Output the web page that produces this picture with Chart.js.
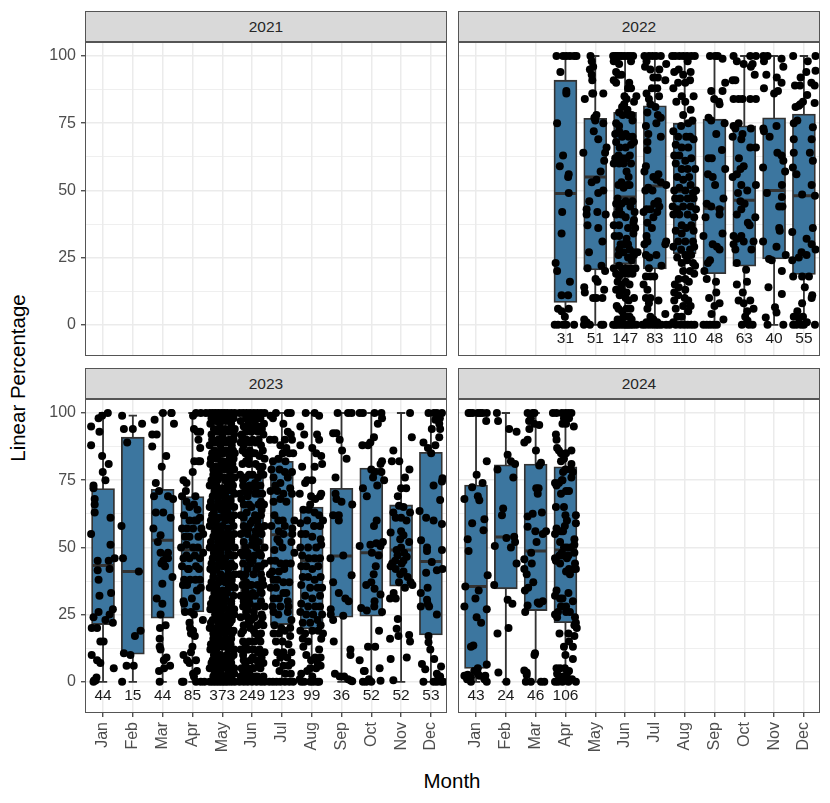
<!DOCTYPE html>
<html lang="en">
<head>
<meta charset="UTF-8" />
<title>Linear Percentage by Month</title>
<script src="https://cdn.jsdelivr.net/npm/chart.js"></script>
<style>
  body { margin: 0; background: #fff; font-family: "Liberation Sans", Arial, sans-serif; }
  canvas { position: absolute; }
  .strip { position: absolute; height: 29px; width: 360px; background: #d9d9d9; border: 1px solid #555;
    border-bottom: 2px solid #555; text-align: center; line-height: 29px; font-size: 15.5px; color: #262626; }
  .title { position: absolute; font-size: 20.5px; color: #000; white-space: nowrap; }
</style>
</head>
<body>
<div class="strip" style="left:85px;top:11px">2021</div>
<div class="strip" style="left:458px;top:11px">2022</div>
<div class="strip" style="left:85px;top:368px">2023</div>
<div class="strip" style="left:458px;top:368px">2024</div>
<div class="title" style="left:452px;top:769px;transform:translateX(-50%)">Month</div>
<div class="title" style="left:18px;top:378px;transform:translate(-50%,-50%) rotate(-90deg)">Linear Percentage</div>
<canvas id="c2021" style="left:30px;top:42px"></canvas>
<canvas id="c2022" style="left:458px;top:42px"></canvas>
<canvas id="c2023" style="left:30px;top:399px"></canvas>
<canvas id="c2024" style="left:458px;top:399px"></canvas>
<script>
const monthNames = ['Jan','Feb','Mar','Apr','May','Jun','Jul','Aug','Sep','Oct','Nov','Dec'];
const yTicks = [0,12.5,25,37.5,50,62.5,75,87.5,100];
const yLabels = [0,25,50,75,100];

// box stats
const months22 = [4,5,6,7,8,9,10,11,12];
const n22 = [31,51,147,83,110,48,63,40,55];
const q1_22 = [8.3,20.4,22.6,20.8,26.4,19,21.8,24.5,18.7];
const med22 = [48.8,55,47.5,51.6,49.6,43.4,46.3,50,48];
const q3_22 = [91,76.8,79,81.5,75,76.5,74,77,78.4];
const lo22 = [0,0,0,0,0,0,0,0,0];
const hi22 = [100,100,100,100,100,100,100,100,100];

const months23 = [1,2,3,4,5,6,7,8,9,10,11,12];
const n23 = [44,15,44,85,373,249,123,99,36,52,52,53];
const q1_23 = [21.3,10.3,23.7,26,27.8,27.8,21.3,19.7,24,24.4,35.6,17.4];
const med23 = [43.3,41,52.7,49,50,50,54.7,45,46.8,48,49,44.8];
const q3_23 = [71.9,91,71.6,68.9,70.7,77,82,65,72,79.5,65.8,85.4];
const lo23 = [0,0,0,0,0,0,0,0,0,0,0,0];
const hi23 = [100,99,100,100,100,100,100,100,100,100,100,100];

const months24 = [1,2,3,4];
const n24 = [43,24,46,106];
const q1_24 = [5,34.6,26.5,22];
const med24 = [35.5,53.9,48.7,49];
const q3_24 = [73.2,80.7,81,80];
const lo24 = [0,0,0,0];
const hi24 = [100,100,100,100];

// jittered points: [offset from the month, value], estimated by eye
const apr22 = [[-.3,100],[-.08,100],[.03,100],[.15,100],[.29,100],[.37,100],[-.17,94],[.03,87],[.03,86],[-.28,75],[-.08,63],[-.19,59],[.11,56],[.09,55],[.11,49],[-.11,42],[-.13,34],[-.33,23],[-.28,20],[.15,16],[-.13,11],[.09,11],[-.25,6],[.11,6],[-.13,5],[-.02,3],[-.36,0],[-.25,0],[-.08,0],[.03,0],[.29,0]];
const may22 = [[-.16,100],[-.12,98],[-.07,96],[-.18,95],[-.12,93],[-.1,91],[-.07,86],[-.1,86],[.27,86],[-.35,84],[.04,78],[-.03,77],[0,76],[.27,75],[.1,69],[.38,66],[.33,64],[-.4,64],[.04,54],[-.12,53],[.27,50],[.1,49],[-.29,43],[-.29,41],[.07,42],[.35,41],[-.26,37],[.24,31],[-.21,27],[.21,22],[-.26,21],[.33,20],[.01,17],[-.37,14],[-.35,12],[-.07,10],[.04,10],[.24,10],[.3,13],[-.37,2],[-.29,1],[.27,0],[-.18,0],[.2,0],[-.38,0],[.08,16],[-.05,72],[.18,57],[.3,61],[-.2,46],[.1,36]];
const jun22 = [[-.4,100],[-.33,100],[-.27,100],[-.2,100],[-.12,100],[-.03,100],[.08,100],[.17,100],[.27,100],[-.38,98],[-.3,98],[-.2,97],[.2,98],[-.3,94],[-.22,93],[-.12,93],[-.38,91],[-.3,90],[.14,90],[.1,88],[.2,88],[-.02,85],[.05,84],[.38,85],[.3,83],[-.1,81],[-.03,82],[.08,80],[-.2,79],[-.08,78],[.12,78],[.22,78],[-.3,75],[-.2,74],[.25,76],[-.33,71],[-.2,72],[-.1,70],[.02,71],[.12,70],[.25,70],[-.3,68],[-.18,66],[.02,66],[.2,67],[.3,68],[-.33,62],[-.22,63],[-.1,62],[.04,62],[.16,63],[-.38,60],[-.2,60],[-.05,60],[.2,60],[.05,57],[.12,55],[-.12,53],[.08,52],[-.22,52],[-.05,51],[.15,52],[-.25,47],[-.12,45],[.02,46],[.25,46],[-.3,45],[-.2,43],[.18,44],[.32,42],[-.3,41],[-.12,41],[.02,40],[.3,39],[-.38,37],[-.2,37],[.28,38],[.1,36],[.34,36],[-.35,33],[-.2,33],[.05,32],[.28,34],[-.15,30],[-.03,30],[.1,30],[-.2,28],[-.05,27],[.15,28],[.28,27],[.42,27],[-.22,26],[.1,25],[.3,26],[.22,24],[-.38,21],[-.2,22],[-.1,21],[.05,21],[.18,21],[.35,21],[-.3,19],[-.2,18],[-.08,19],[.1,19],[.25,19],[-.25,16],[-.12,15],[.02,16],[.15,15],[-.3,13],[-.12,13],[.05,12],[-.18,11],[.02,10],[.3,10],[.12,9],[-.28,7],[-.22,6],[-.1,5],[.05,6],[.18,6],[-.05,3],[.08,3],[.15,3],[-.25,2],[-.12,2],[.22,2],[-.4,0],[-.33,0],[-.25,0],[-.15,0],[-.05,0],[.03,0],[.1,0],[.18,0],[.27,0],[.38,0]];
const jul22 = [[-.35,100],[-.2,100],[-.08,100],[.04,100],[.2,100],[-.28,98],[.38,97],[-.33,96],[-.15,95],[.15,95],[-.05,92],[.1,92],[.35,91],[-.1,88],[.08,88],[-.28,86],[-.2,84],[.14,85],[-.15,82],[.02,81],[-.25,79],[.1,78],[.2,77],[-.3,74],[.05,75],[-.22,71],[.2,70],[-.25,68],[-.25,65],[-.3,59],[-.35,57],[-.05,55],[.05,54],[.12,56],[.2,53],[.38,52],[-.32,50],[-.22,51],[-.08,50],[.1,46],[-.02,45],[.15,44],[-.28,43],[-.38,42],[-.15,43],[-.05,40],[.08,42],[-.25,38],[-.1,36],[-.35,30],[-.28,33],[-.25,31],[.35,30],[.38,31],[-.3,26],[-.18,25],[.05,26],[.22,22],[-.2,21],[-.3,18],[-.15,18],[-.02,18],[-.38,15],[-.25,13],[-.3,10],[-.15,10],[-.2,8],[-.25,6],[.12,9],[.35,4],[-.15,3],[-.28,1],[-.42,0],[-.32,0],[-.2,0],[-.08,0],[.03,0],[.12,0],[.22,0],[.38,0],[.5,0],[.08,1],[-.05,2]];
const aug22 = [[-.42,100],[-.32,100],[-.18,100],[-.05,100],[.08,100],[.22,100],[.34,100],[.1,98],[-.2,95],[-.35,94],[-.05,93],[.2,94],[.02,90],[-.22,90],[.18,91],[-.38,88],[-.1,85],[.3,85],[-.28,83],[.02,83],[.2,80],[-.05,78],[.26,76],[.12,75],[-.12,74],[-.38,72],[-.22,70],[.05,70],[.18,70],[.3,69],[-.3,67],[-.1,66],[.12,66],[-.35,63],[-.18,63],[.02,61],[.22,62],[-.3,60],[-.1,58],[.1,58],[.35,58],[-.25,55],[-.05,54],[.15,55],[-.35,50],[-.18,51],[.02,50],[.2,52],[.28,49],[.38,50],[-.32,47],[-.15,47],[.1,47],[.3,47],[-.4,44],[-.25,43],[-.05,44],[.2,44],[.38,43],[-.38,41],[-.18,41],[.1,41],[.32,40],[-.1,37],[.05,36],[.22,37],[-.3,35],[-.1,34],[.3,35],[-.22,31],[.02,31],[.28,31],[-.38,29],[-.12,28],[.18,28],[.32,29],[-.25,25],[.02,26],[.22,26],[-.1,23],[.08,24],[.28,23],[.35,22],[-.05,20],[.18,20],[.32,19],[-.2,17],[.02,17],[.14,16],[-.33,15],[-.2,14],[.02,13],[-.35,12],[-.22,11],[0,10],[.12,9],[-.35,9],[-.05,7],[.2,7],[-.3,6],[.12,5],[-.25,3],[-.1,3],[-.38,1],[-.3,0],[-.15,0],[-.02,0],[.1,0],[.22,0],[.33,0]];
const sep22 = [[-.15,100],[.02,100],[.11,100],[.27,99],[.36,90],[.27,87],[-.11,87],[-.01,84],[.17,82],[-.2,77],[-.11,76],[.34,75],[.06,71],[.25,65],[-.09,62],[.36,58],[-.22,56],[-.06,55],[.3,47],[-.26,45],[-.11,44],[.17,43],[.17,41],[-.37,33],[.27,34],[-.06,30],[.08,29],[.17,28],[-.15,24],[-.22,23],[-.34,20],[-.26,17],[.06,12],[-.18,10],[.17,8],[0,7],[.3,2],[-.37,0],[-.26,0],[-.15,0],[-.03,0],[.08,0],[.15,83],[-.2,62],[.02,52],[-.3,40],[.05,16],[-.1,4]];
const oct22 = [[-.36,100],[-.25,98],[.2,100],[.39,100],[.28,97],[.35,93],[-.3,91],[-.39,91],[-.36,84],[-.19,84],[-.06,84],[.2,84],[.39,84],[-.19,75],[-.36,74],[-.3,73],[-.39,70],[.22,73],[-.06,71],[-.1,69],[.39,66],[-.02,59],[-.13,58],[-.25,56],[-.39,55],[-.1,52],[.39,52],[-.21,49],[-.13,46],[.01,45],[-.1,43],[-.25,41],[.37,40],[.18,37],[-.1,33],[-.36,33],[-.25,32],[-.02,31],[.31,31],[-.36,30],[-.3,28],[.24,28],[-.25,23],[.06,20.5],[.09,16],[-.25,15],[-.19,9],[.2,9],[-.02,8],[.31,6],[.03,3],[.11,1.5],[-.08,0],[.15,0],[.28,0],[.22,96],[-.02,97],[.1,50],[-.18,62],[.12,38],[.2,66],[-.05,12],[.1,5]];
const nov22 = [[-.36,100],[-.22,100],[-.34,98],[.31,96],[-.26,93],[.09,92],[.25,90],[-.34,88],[.13,87],[0,86],[-.36,73],[-.34,72],[.08,74],[-.15,70],[.11,64],[.25,63],[.31,61],[-.37,58.5],[.37,57],[.26,52],[-.24,49],[.26,47.5],[.17,44],[.28,44],[.17,36],[.19,35],[-.37,31],[.08,29],[.39,26],[-.17,24.5],[-.08,24],[.26,20],[-.19,14],[.26,11.5],[.03,6.5],[.08,4.6],[-.28,2.7],[-.22,0],[.31,0],[.25,99]];
const dec22 = [[-.36,100],[.39,100],[.13,98],[.08,94],[.39,94.5],[-.11,92],[-.13,89],[-.3,89],[.36,89],[.11,85.5],[-.03,83],[-.17,81.5],[-.28,81],[.36,82.5],[-.22,76],[-.34,75],[.3,73.5],[-.34,69],[.26,69],[.2,64],[-.34,64],[.3,61],[-.37,58.5],[-.25,56],[.26,52],[-.06,48.5],[.37,48],[.3,36],[-.39,34.5],[.09,32],[.26,30],[.39,28],[-.08,27],[.09,26],[-.17,25],[-.39,24],[-.36,18],[-.06,18],[.17,18],[.03,14],[.28,11],[.26,10],[-.06,8],[-.22,5],[-.34,3],[-.17,2.5],[-.03,3],[-.36,0],[.37,0],[-.25,0],[-.1,0],[0,0],[.1,1],[-.12,82],[.25,90]];

const jan23 = [[.16,100],[-.03,99],[-.15,98],[-.4,95],[-.12,93],[-.4,88],[-.03,84],[.19,81],[-.01,78],[.08,75],[-.32,73],[-.32,72],[-.28,68],[-.28,66],[-.28,63],[.25,61],[-.4,55],[.25,51],[.39,46],[.19,45],[-.18,45],[-.18,41.5],[.22,42],[-.15,38],[-.12,32],[.27,33],[-.15,26],[.33,27],[.22,25],[-.32,24],[.08,23],[.33,22],[-.38,20],[-.2,20],[.02,15],[-.09,15],[-.38,10],[-.2,8],[-.09,7],[.36,5],[-.22,1.6],[-.32,0],[-.25,.5],[-.3,.5]];
const feb23 = [[-.36,99],[.31,96],[-.3,94],[0,94],[-.19,89],[-.38,58],[-.33,46],[.2,41],[.26,19],[.07,17],[-.3,10.6],[-.08,10],[-.21,6],[.03,6],[-.36,0]];
const mar23 = [[.01,100],[.29,100],[-.27,97.5],[.38,96],[-.2,92],[-.35,92],[-.35,87.5],[.12,84],[-.03,80],[-.23,74],[-.12,71],[-.29,69],[.18,69],[.35,68],[-.23,63],[.02,63],[.27,61],[-.31,57],[-.07,54.5],[-.16,52],[-.07,48],[.18,48],[.02,45],[.18,46],[.33,39],[-.01,36.5],[-.2,31],[-.01,29],[-.07,25],[.1,21],[-.09,20],[-.1,16],[-.07,12],[.13,9],[.25,6],[-.12,4],[.05,5],[-.1,0],[.3,100],[.12,47],[-.04,44],[.08,43],[.04,8],[-.1,13]];
const apr23 = [[.12,100],[.28,100],[.45,100],[.02,99],[.05,94],[.17,93],[.26,93],[.2,90],[.26,87],[.26,82],[.06,82],[.2,82],[.01,78],[-.3,75],[-.2,74],[-.22,71],[-.35,69],[.1,69],[-.2,67],[-.1,65],[.05,66],[.17,64],[-.28,62],[-.1,60],[.08,60],[.25,61],[-.35,57],[-.18,57],[.02,57],[.3,57],[-.25,54],[-.1,54],[.2,54],[.36,55],[-.38,50],[-.2,51],[.02,50],[.18,50],[-.3,46],[-.1,46],[.08,47],[.25,46],[-.35,43],[-.15,42],[.12,43],[-.28,38],[-.08,38],[.1,38],[.25,38],[-.32,36],[-.18,36],[.28,35],[-.3,30],[-.28,29],[-.25,26],[.35,23],[-.1,22],[-.08,20],[-.05,18],[.02,19],[.08,17],[0,13],[-.05,11],[.12,8],[-.3,10],[-.18,8],[-.1,7],[.15,4],[.02,3],[-.35,0],[-.3,0],[.05,2],[.12,0],[.28,0],[.4,0],[.05,25],[.12,28],[-.02,31],[.15,34],[-.12,42],[-.05,26],[-.2,47],[.22,42],[.36,48],[.15,60]];
const may23 = [[-.42,100],[-.32,100],[-.22,100],[-.12,100],[-.02,100],[.08,100],[.18,100],[.3,100],[.42,100],[-.4,96],[-.24,97],[-.08,96],[.12,97],[.3,96],[-.36,92],[-.16,93],[0,92],[.2,93],[.4,92],[-.42,88],[-.24,89],[-.06,88],[.14,89],[.32,88],[-.34,85],[-.14,84],[.04,85],[.24,84],[.42,85],[-.4,81],[-.22,80],[-.04,81],[.16,80],[.34,81],[-.3,77],[-.12,77],[.06,76],[.26,77],[.42,76],[-.42,73],[-.2,73],[0,72],[.18,73],[.36,73],[-.32,69],[-.1,69],[.1,69],[.28,68],[-.42,65],[-.22,65],[-.02,66],[.18,65],[.4,65],[-.34,62],[-.12,61],[.06,62],[.28,61],[-.42,58],[-.2,58],[0,58],[.2,57],[.38,58],[-.3,54],[-.1,54],[.12,54],[.3,53],[-.42,50],[-.2,50],[0,50],[.2,50],[.42,50],[-.32,46],[-.1,46],[.1,46],[.3,47],[-.4,42],[-.2,42],[0,43],[.2,42],[.4,43],[-.3,39],[-.08,38],[.12,39],[.32,38],[-.42,35],[-.2,35],[.02,34],[.22,35],[.42,35],[-.32,31],[-.1,31],[.1,31],[.3,30],[-.4,27],[-.2,27],[0,27],[.22,27],[.4,27],[-.32,23],[-.1,23],[.12,24],[.32,23],[-.42,20],[-.2,20],[0,20],[.2,20],[.38,19],[-.3,16],[-.1,16],[.12,16],[.3,16],[-.4,12],[-.2,12],[0,13],[.2,12],[.4,12],[-.32,8],[-.1,9],[.1,8],[.3,9],[-.42,5],[-.2,5],[0,5],[.2,5],[.4,5],[-.3,2],[-.1,2],[.12,2],[.3,2],[-.42,0],[-.32,0],[-.22,0],[-.12,0],[-.02,0],[.08,0],[.18,0],[.3,0],[.42,0],
  [-.36,98],[-.18,98],[0,98],[.2,98],[.38,98],[-.28,94],[-.1,94],[.1,94],[.28,94],[.42,94],[-.34,90],[-.14,90],[.06,90],[.24,90],[.38,90],[-.26,86],[-.04,86],[.1,86],[.22,86],[.36,86],[-.38,83],[-.2,83],[.02,82],[.2,82],[.38,83],[-.3,79],[-.12,79],[.08,79],[.26,79],[.4,79],[-.36,75],[-.16,75],[.1,75],[.3,75],[-.26,71],[-.06,71],[.14,71],[.34,71],[.42,70],[-.38,67],[-.14,67],[.08,67],[.28,67],[-.28,63],[-.04,64],[.18,63],[.4,62],[-.38,60],[-.2,60],[.1,60],[.3,60],[-.24,56],[-.04,56],[.18,55],[.4,55],[-.38,52],[-.14,52],[.08,52],[.3,52],[-.28,48],[-.06,48],[.2,48],[.4,47],[-.36,44],[-.12,44],[.1,44],[.3,44],[-.3,41],[-.06,40],[.2,40],[.42,40],[-.36,37],[-.12,37],[.1,37],[.32,36],[-.26,33],[-.06,33],[.16,33],[.38,32],[-.38,29],[-.16,29],[.06,29],[.3,29],[-.24,25],[-.04,25],[.18,25],[.4,25],[-.38,22],[-.12,22],[.06,22],[.26,22],[-.3,18],[-.1,18],[.1,18],[.32,18],[-.38,14],[-.16,14],[.06,14],[.28,14],[-.28,10],[-.06,10],[.16,10],[.38,10],[-.36,7],[-.14,7],[.08,7],[.3,7],[-.26,3],[-.04,3],[.2,3],[.4,3]];
const jun23 = [[-.42,100],[-.3,100],[-.18,100],[-.06,100],[.06,100],[.18,100],[.3,100],[.42,100],[-.38,97],[-.12,97],[.1,97],[.28,98],[.4,96],[-.35,92],[-.2,93],[-.02,93],[.2,93],[.38,92],[-.38,89],[-.28,88],[-.08,89],[.12,89],[.3,88],[-.22,85],[.02,85],[.25,84],[.42,83],[-.32,81],[-.1,81],[.12,81],[.35,80],[-.4,77],[-.22,76],[.02,77],[.2,76],[.38,77],[-.3,73],[-.08,73],[.28,73],[-.4,70],[-.15,69],[.1,70],[.34,70],[-.28,66],[-.02,65],[.22,66],[.4,66],[-.38,62],[-.18,63],[.1,62],[.3,62],[-.28,58],[-.05,59],[.2,58],[.42,58],[-.38,55],[-.15,55],[.1,54],[.32,55],[-.28,52],[0,51],[.22,52],[.42,50],[-.38,48],[-.15,48],[.08,47],[.3,47],[-.3,44],[-.05,44],[.2,43],[.42,44],[-.4,40],[-.22,40],[.05,40],[.3,40],[-.32,36],[-.08,36],[.18,36],[.38,36],[-.38,32],[-.18,32],[.1,32],[.32,33],[-.3,28],[-.08,29],[.2,28],[.42,28],[-.38,24],[-.15,24],[.08,24],[.32,25],[-.28,21],[-.12,22],[.18,21],[.38,21],[-.36,18],[-.06,20],[.12,18],[.3,18],[-.3,15],[-.1,15],[.08,15],[.28,15],[-.38,12],[-.18,12],[.05,12],[.25,12],[.42,11],[-.28,8],[-.05,8],[.15,8],[.32,9],[-.35,5],[-.15,5],[.05,5],[.28,5],[-.38,2],[-.22,2],[-.02,2],[.18,2],[.38,2],[-.42,0],[-.28,0],[-.15,0],[0,0],[.15,0],[.3,0],[.42,0],
  [-.2,98],[.02,98],[.16,99],[-.28,95],[-.1,95],[.12,95],[.28,95],[-.18,90],[.02,90],[.22,90],[.36,86],[-.32,86],[-.08,86],[.1,85],[-.2,82],[.24,80],[-.1,77],[.1,74],[-.22,71],[.22,70],[-.36,68],[-.1,66],[.32,64],[-.28,61],[.02,60],[-.12,57],[.3,57],[.02,53],[-.22,50],[.14,50],[-.1,46],[.3,43],[-.28,39],[.14,42],[-.02,36],[.28,34],[-.22,34],[-.1,31],[.12,28],[-.2,26],[.3,22],[-.02,23],[.22,16],[-.12,12],[-.3,10],[.02,9],[.22,6],[-.22,7],[-.1,3],[.1,2],[.3,1],
  [-.33,91],[.33,94],[-.12,83],[.3,78],[-.3,75],[.12,72],[-.12,71],[.3,67],[.18,60],[-.22,57],[.12,56],[-.3,47],[.24,48],[.02,45],[-.15,42],[.34,38],[-.2,37],[.02,33],[-.28,30],[.3,30],[-.14,27],[.06,26],[.35,24],[-.3,19],[.06,19],[-.22,14],[.2,11],[.38,7],[-.3,4],[.02,5]];
const jul23 = [[-.38,99],[-.2,100],[.2,100],[.3,100],[-.3,98],[.05,96],[.2,93],[.3,92],[-.4,90],[-.25,90],[-.05,88],[.1,90],[.34,90],[.15,87],[.03,85],[.25,85],[.38,85],[-.3,82],[-.12,83],[.12,82],[-.35,79],[-.08,79],[.1,78],[.34,78],[-.28,76],[-.05,74],[.2,76],[-.22,73],[.28,72],[-.38,71],[-.15,71],[.05,70],[.34,70],[-.28,67],[-.05,68],[.15,67],[-.25,62],[-.12,60],[.03,60],[.1,58],[-.35,58],[-.1,56],[.05,55],[.35,57],[.35,55],[-.15,53],[-.08,52],[.02,50],[.32,52],[-.25,49],[-.38,45],[-.22,45],[-.05,44],[.14,44],[.3,44],[-.32,41],[-.1,41],[.08,42],[-.28,38],[-.15,38],[.05,37],[.25,37],[-.38,35],[-.2,35],[.05,33],[.15,33],[-.28,31],[-.1,31],[.2,30],[-.32,28],[-.05,28],[.22,28],[-.28,26],[-.12,25],[.2,26],[.32,23],[-.25,21],[-.02,20],[.28,20],[-.28,18],[-.1,18],[.1,19],[.28,17],[-.2,15],[.02,15],[.22,14],[-.15,11],[.05,11],[.32,11],[-.05,9],[.18,9],[.32,7],[-.2,7],[.05,6],[.22,6],[-.08,4],[.12,3],[.3,3],[-.42,0],[-.3,0],[-.18,0],[-.05,0],[.1,0],[.25,0],[.38,0],[.42,60],[-.4,40],[.42,48]];
const aug23 = [[-.2,100],[.1,100],[.25,99],[-.38,95],[-.25,92],[.18,92],[.25,90],[-.38,88],[.02,87],[.15,85],[.32,84],[.35,81],[-.32,80],[-.15,75],[.02,75],[-.22,74],[-.02,69],[.12,68],[.28,69],[-.05,66],[-.28,64],[-.1,64],[.1,63],[.25,62],[-.38,59],[-.15,60],[.08,58],[.28,58],[-.35,55],[-.2,55],[.02,54],[.3,53],[-.38,50],[-.12,50],[.15,50],[.32,51],[-.32,47],[-.1,46],[.1,46],[.28,46],[-.35,43],[-.18,43],[.02,42],[.22,43],[-.3,39],[-.12,39],[.1,38],[.3,39],[-.35,36],[-.05,35],[.2,35],[.35,35],[-.22,32],[.02,31],[.28,32],[-.35,29],[-.12,28],[.12,28],[.28,28],[-.38,26],[-.18,25],[.05,25],[.35,25],[-.3,22],[-.05,22],[.2,23],[.3,21],[-.38,19],[-.22,18],[.02,19],[.22,19],[.38,18],[-.3,16],[-.12,15],[.32,16],[-.28,13],[.25,12],[-.18,10],[-.02,8],[.12,9],[.3,9],[.2,7],[.3,6],[-.05,5],[.15,5],[-.35,3],[-.15,4],[.02,2],[-.35,0],[-.25,0],[-.05,0],[.05,0],[.18,0],[.25,0],[-.4,1],[.38,60],[-.4,70],[.32,70],[.1,80]];
const sep23 = [[-.13,100],[.22,100],[.34,100],[-.17,92.5],[-.28,92.5],[-.06,90],[.02,86],[.17,83],[-.2,76],[-.2,70],[-.17,68],[0,67],[.36,66],[-.28,62],[-.09,62],[-.09,60],[.06,47],[-.37,46],[.34,39.6],[-.28,37],[-.09,33],[.13,31],[.24,30],[-.36,27],[-.36,25],[-.28,23],[.06,24.6],[-.26,15],[.3,12],[.3,10],[-.22,3],[-.06,2],[.09,2],[.22,1],[.31,.5],[.36,.2]];
const oct23 = [[-.39,100],[-.28,100],[.11,100],[.34,100],[.36,98],[.22,96],[.09,91],[-.03,89],[-.11,88],[.36,82],[.31,81],[0,79],[.11,78],[.06,76],[.34,78],[.43,75],[.2,73],[-.28,72],[-.15,69],[.09,58],[-.39,50.5],[-.03,51],[.39,52],[.17,51.5],[.31,50.5],[.02,48],[.25,47],[.15,43],[0,37],[-.17,36],[.11,34.6],[.31,32.5],[.11,30],[-.34,27.5],[-.15,26.5],[.36,26],[.26,19],[-.11,13],[.13,13],[-.39,8],[.28,5],[-.22,4],[-.28,0],[-.17,0],[0,0],[.31,.4],[-.08,1],[.1,28],[.18,60],[-.3,88],[-.25,4],[.08,40]];
const nov23 = [[.3,100],[.36,91],[-.26,86],[-.31,82],[-.06,82],[.28,79],[.13,76],[0,72],[.17,72],[-.11,69],[-.07,65.5],[.08,65],[.3,63],[-.26,63],[-.18,61],[0,61],[-.35,55.5],[0,56],[.08,54.5],[.27,52],[0,50],[-.15,49],[.19,46.5],[-.2,45],[.08,45],[-.35,43],[-.18,42],[.08,41],[-.03,40],[.22,39],[.38,36],[-.07,37],[.13,35],[-.37,31],[-.18,31],[-.11,23.4],[-.15,19.7],[-.37,16],[-.09,17],[.27,17.4],[.3,15],[-.35,8.5],[.19,9],[-.26,.6],[-.3,44],[-.12,47],[.1,48],[-.03,53],[.02,44],[.18,60],[.32,37],[-.25,33]];
const dec23 = [[-.08,100],[.2,100],[.37,100],[.26,99],[.15,97.5],[.03,94],[.31,94],[.28,91],[.15,88],[-.25,89],[-.1,87],[.01,85],[.39,75.7],[.37,74.5],[.09,73],[.31,67.6],[-.38,63.5],[-.16,61],[.09,60],[.37,58.7],[-.33,52.7],[-.13,50],[-.13,48.7],[.37,49],[.03,44.6],[.39,42],[.2,41.5],[-.16,40.6],[-.11,35],[-.34,33],[-.13,30.5],[-.34,28],[-.11,29],[-.06,28],[.2,25],[-.08,17],[-.08,14.7],[-.02,12],[.11,8.5],[-.3,6.6],[-.19,4.7],[.34,5.7],[.2,3],[.31,2],[-.25,0],[.09,0],[.2,0],[.35,0],[.3,98],[.1,100],[.24,1],[.42,0],[.28,96]];

const jan24 = [[-.25,100],[-.11,100],[.06,100],[.22,100],[.36,100],[.34,97],[.36,82],[.02,77],[.22,74],[-.13,72.4],[.06,69],[-.39,68],[.11,67.5],[.28,60.5],[-.13,59],[.25,56.4],[-.28,53],[-.25,48.7],[.39,39.6],[-.36,35.5],[.09,34],[-.02,31],[-.39,28],[.36,27],[.02,24],[.17,22],[-.09,13.5],[-.17,13],[.36,6.4],[.06,5],[-.06,4],[-.28,2.6],[-.39,2.3],[-.17,1.6],[.11,2.3],[.31,2.3],[-.17,0],[.36,0],[.06,3],[-.2,100],[.14,100],[.28,1],[-.3,1]];
const feb24 = [[-.3,100],[-.26,97],[.11,94],[.36,93],[.06,84.5],[.17,82],[.31,81],[-.28,79],[.25,76],[-.09,64.5],[-.13,62],[.02,53.5],[.28,54],[.31,52],[.17,50],[-.37,50.5],[.36,44],[-.39,36],[.06,30.5],[.22,29],[.09,20],[-.28,18],[-.25,3.5],[.02,0]];
const mar24 = [[-.27,100],[-.04,100],[-.16,98],[.12,95.5],[-.21,94],[-.27,90],[-.38,89],[.01,86],[.18,81.5],[.12,80.5],[.1,72],[.07,70],[.21,63],[-.1,62.5],[-.27,61.5],[-.27,57.7],[-.01,56],[.35,56],[.24,55],[.03,52],[-.38,45.6],[-.13,44],[-.38,42],[-.3,40],[-.08,37],[-.36,34],[.24,30],[.07,29.5],[-.27,28.4],[-.35,26],[-.02,10.6],[-.04,10],[-.38,4.2],[-.3,2.5],[-.16,0],[-.33,0],[.18,0],[.29,0],[-.1,100],[-.22,97],[-.05,96],[.02,72],[-.15,48],[-.25,35],[.12,29],[-.3,3.5]];
const apr24 = [[-.42,100],[-.3,100],[-.12,100],[0,100],[.1,100],[.2,100],[-.05,98],[.12,98],[-.1,96],[.02,96],[.28,95],[-.32,92],[-.3,90],[-.28,87],[-.22,86],[-.15,85],[.02,85],[.2,86],[-.15,82],[-.05,83],[.2,81],[.18,79],[0,79],[.25,78],[-.08,78],[.2,76],[-.1,75],[-.35,74],[-.22,74],[-.12,75],[-.3,73],[.02,71],[-.15,70],[.12,71],[-.32,65],[-.05,65],[0,62],[.05,60],[.35,62],[-.02,58],[.35,59],[-.3,57],[-.15,56],[-.35,55],[-.08,56],[.3,53],[-.18,52],[.05,50],[.3,51],[-.05,50],[.18,50],[-.12,48],[.3,48],[-.35,46],[-.2,47],[-.08,47],[.1,47],[-.32,45],[-.18,44],[.05,46],[.32,44],[.28,42],[.12,42],[.02,41],[.15,40],[.35,42],[-.3,34],[-.35,32],[-.18,31],[-.1,31],[.1,33],[.02,28],[-.15,28],[.25,30],[-.25,26],[-.35,25],[.02,26],[.15,26],[.32,24],[-.28,24],[.35,22],[.3,21],[.38,20],[-.2,18],[.1,18],[.12,15],[.3,17],[-.05,13],[.25,13],[0,10],[.25,8.5],[-.3,5],[-.18,5],[-.02,5],[.12,4],[-.28,3],[-.1,2],[.05,3],[-.22,1],[0,1],[.22,1],[-.35,0],[-.25,0],[-.1,0],[.1,0],[.35,0]];

function seg(list) {
  // flatten [[x,y],[x,y]] segments into one line with gaps
  const out = [];
  list.forEach(s => { out.push({x:s[0][0],y:s[0][1]}, {x:s[1][0],y:s[1][1]}, {x:s[1][0],y:null}); });
  return out;
}

function boxSets(ms, q1, med, q3, lo, hi, pts) {
  const whisk = [];
  ms.forEach((m,i) => {
    whisk.push([[m,lo[i]],[m,hi[i]]]);
    whisk.push([[m-.14,lo[i]],[m+.14,lo[i]]]);
    whisk.push([[m-.14,hi[i]],[m+.14,hi[i]]]);
  });
  const points = [];
  ms.forEach((m,i) => pts[i].forEach(p => points.push({x:m+p[0],y:p[1]})));
  return [
    {type:'scatter',data:points,pointRadius:4,pointBackgroundColor:'#000',pointBorderWidth:0,order:1},
    {type:'line',data:seg(ms.map((m,i) => [[m-.37,med[i]],[m+.37,med[i]]])),borderColor:'#333',borderWidth:3,pointRadius:0,spanGaps:false,order:2},
    {type:'bar',data:ms.map((m,i) => ({x:m,y:[q1[i],q3[i]]})),backgroundColor:'#3c769f',borderColor:'#333',borderWidth:1.8,borderSkipped:false,barThickness:23,order:3},
    {type:'line',data:seg(whisk),borderColor:'#333',borderWidth:1.8,pointRadius:0,spanGaps:false,order:4}
  ];
}

function makePanel(id, w, h, showY, showX, datasets, ms, counts) {
  const canvas = document.getElementById(id);
  canvas.width = w; canvas.height = h;
  canvas.style.width = w + 'px'; canvas.style.height = h + 'px';
  const noPad = s => { s.paddingLeft = s.paddingRight = s.paddingTop = s.paddingBottom = 0; };
  new Chart(canvas, {
    type: 'bar',
    data: { datasets: datasets },
    options: {
      responsive: false, animation: false, devicePixelRatio: 1,
      layout: { padding: 0, autoPadding: false },
      plugins: { legend: {display:false}, tooltip: {enabled:false} },
      scales: {
        x: {
          type: 'linear', min: .395, max: 12.54, offset: false,
          afterBuildTicks: s => { s.ticks = monthNames.map((_,i) => ({value:i+1})); },
          afterFit: s => { s.height = showX ? 47 : 0; noPad(s); },
          border: {display:false},
          grid: {offset:false, color:'#ebebeb', lineWidth:1.5, drawTicks:showX, tickLength:4, tickColor:'#333', tickWidth:1.2},
          ticks: {display:showX, autoSkip:false, minRotation:90, maxRotation:90, padding:5, color:'#4d4d4d',
            font:{family:'"Liberation Sans"',size:16}, callback: v => monthNames[v-1]}
        },
        y: {
          min: -11.6, max: 105.2,
          afterBuildTicks: s => { s.ticks = yTicks.map(v => ({value:v})); },
          afterFit: s => { s.width = showY ? 55 : 0; noPad(s); },
          border: {display:false},
          grid: {
            color:'#ebebeb',
            lineWidth: c => yLabels.includes(c.tick.value) ? 1.5 : .8,
            drawTicks: showY, tickLength: 4,
            tickColor: c => yLabels.includes(c.tick.value) ? '#333' : 'rgba(0,0,0,0)',
            tickWidth: 1.2
          },
          ticks: {display:showY, autoSkip:false, padding:5, color:'#4d4d4d',
            font:{family:'"Liberation Sans"',size:16}, callback: v => yLabels.includes(v) ? String(v) : ''}
        }
      }
    },
    plugins: [{
      id: 'panelFrame',
      afterDraw(chart) {
        const c = chart.ctx, a = chart.chartArea;
        c.save();
        // sample sizes under each box
        c.fillStyle = '#1a1a1a';
        c.font = '15.5px "Liberation Sans"';
        c.textAlign = 'center'; c.textBaseline = 'middle';
        ms.forEach((m,i) => c.fillText(String(counts[i]), chart.scales.x.getPixelForValue(m), chart.scales.y.getPixelForValue(-5)));
        c.strokeStyle = '#555'; c.lineWidth = 1;
        c.strokeRect(Math.floor(a.left)+.5, Math.floor(a.top)+.5, a.right-a.left-1, a.bottom-a.top-1);
        c.restore();
      }
    }]
  });
}

makePanel('c2021', 417, 314, true, false, [], [], []);
makePanel('c2022', 362, 314, false, false,
  boxSets(months22, q1_22, med22, q3_22, lo22, hi22, [apr22,may22,jun22,jul22,aug22,sep22,oct22,nov22,dec22]), months22, n22);
makePanel('c2023', 417, 361, true, true,
  boxSets(months23, q1_23, med23, q3_23, lo23, hi23, [jan23,feb23,mar23,apr23,may23,jun23,jul23,aug23,sep23,oct23,nov23,dec23]), months23, n23);
makePanel('c2024', 362, 361, false, true,
  boxSets(months24, q1_24, med24, q3_24, lo24, hi24, [jan24,feb24,mar24,apr24]), months24, n24);
</script>
</body>
</html>
